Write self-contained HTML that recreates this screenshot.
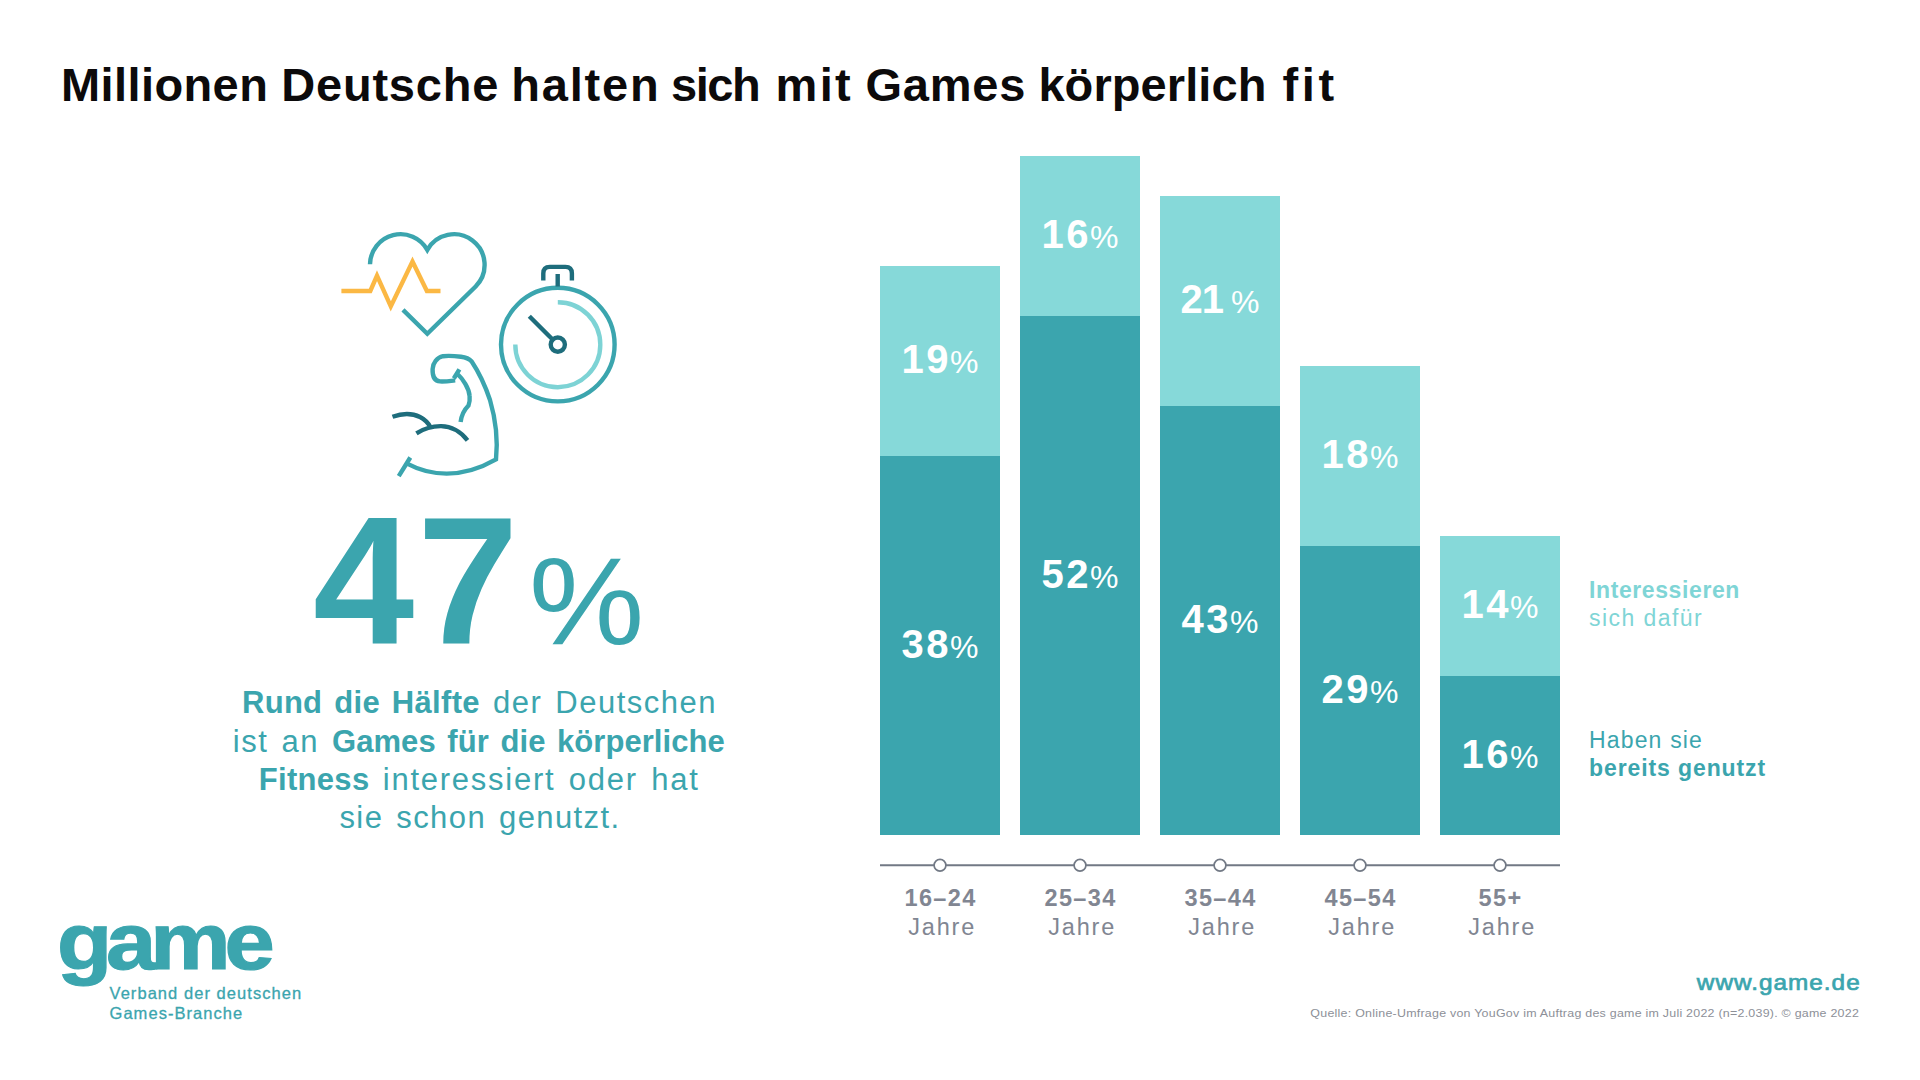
<!DOCTYPE html>
<html lang="de">
<head>
<meta charset="utf-8">
<title>Millionen Deutsche halten sich mit Games körperlich fit</title>
<style>
html,body{margin:0;padding:0;background:#fff;}
body{width:1920px;height:1080px;position:relative;overflow:hidden;font-family:"Liberation Sans",sans-serif;}
.abs{position:absolute;white-space:nowrap;line-height:1;}
#title{left:0;top:61px;width:1400px;height:47px;font-size:47px;font-weight:bold;color:#0c0a0b;}
#title span{position:absolute;top:0;}
.bar{position:absolute;width:120px;}
.dk{background:#3ba5ae;}
.lt{background:#86d9d9;}
.val{position:absolute;color:#fff;font-weight:bold;font-size:40px;white-space:nowrap;line-height:1;transform:translateX(-50%);letter-spacing:2.5px;}
.val span{font-weight:normal;font-size:32px;letter-spacing:0;margin-left:-1px;}
.xl{position:absolute;width:160px;text-align:center;color:#818692;font-size:23.5px;line-height:28.6px;white-space:nowrap;letter-spacing:1.8px;padding-left:2.2px;}
.xl b{letter-spacing:1.4px;position:relative;left:-1.6px;}
#big{left:313px;top:489.5px;font-size:182px;font-weight:bold;color:#3ba5ae;letter-spacing:3px;}
#bigp{left:529px;top:538.5px;font-size:124px;color:#3ba5ae;transform:scaleX(1.045);transform-origin:0 0;}
.pl{position:absolute;left:78px;width:800px;text-align:center;color:#3ba5ae;font-size:31px;line-height:38px;white-space:nowrap;letter-spacing:1.5px;word-spacing:3px;}
.pl b{letter-spacing:0.3px;}
.leg{font-size:23px;line-height:28.4px;}
#leg1{left:1589px;top:575.5px;color:#7fd5d6;}
#leg2{left:1589px;top:726px;color:#3ba5ae;}
#logo{left:57px;top:902px;font-size:80px;font-weight:bold;color:#3ba5ae;letter-spacing:-5.4px;transform:scaleX(1.13);transform-origin:0 0;-webkit-text-stroke:1.2px #3ba5ae;}
#logosub{left:109.5px;top:983px;font-size:16.5px;line-height:20.4px;color:#3ba5ae;letter-spacing:1.05px;-webkit-text-stroke:0.3px #3ba5ae;}
#www{right:59.5px;top:971.5px;font-size:22.5px;color:#3ba5ae;letter-spacing:0.94px;transform:scaleX(1.08);transform-origin:100% 0;-webkit-text-stroke:0.7px #3ba5ae;}
#src{right:60.5px;top:1008px;font-size:11.5px;color:#8d9098;letter-spacing:0.23px;transform:scaleX(1.08);transform-origin:100% 0;}
</style>
</head>
<body>
<div id="title" class="abs"><span style="left:61.0px;letter-spacing:0.4px">Millionen</span> <span style="left:281.2px;letter-spacing:0.81px">Deutsche</span> <span style="left:511.2px;letter-spacing:1.8px">halten</span> <span style="left:671.0px;letter-spacing:-1.42px">sich</span> <span style="left:775.6px;letter-spacing:2.25px">mit</span> <span style="left:865.4px;letter-spacing:0.79px">Games</span> <span style="left:1038.4px;letter-spacing:0.08px">körperlich</span> <span style="left:1282.6px;letter-spacing:3.6px">fit</span></div>
<!-- icons -->
<svg id="icons" class="abs" style="left:320px;top:210px" width="320" height="280" viewBox="320 210 320 280" fill="none" stroke-width="4.4" stroke-linecap="butt" stroke-linejoin="miter">
  <path id="heart" d="M370.00 264.30 A30.6 30.6 0 0 1 427.30 249.85 A30.6 30.6 0 1 1 475.64 286.44 L427.30 333.70 L403.00 309.90" stroke="#3ba5ae"/>
  <path id="ecg" d="M341.4 291 H370.3 L377 275.6 L390.8 306.4 L412.5 261.5 L426.9 291 H440.5" stroke="#fbb844"/>
  <circle cx="557.8" cy="344.6" r="56.8" stroke="#3ba5ae"/>
  <path d="M557.8 302.2 A42.5 42.5 0 1 1 515.3 344.6" stroke="#7dd3d5"/>
  <path d="M529.3 316.2 L552.6 339.5" stroke="#1e6d7c"/>
  <circle cx="557.8" cy="344.600" r="7.100" stroke="#1e6d7c"/>
  <path d="M543.3 280.5 V273.4 Q543.3 266.9 549.8 266.9 H565.4 Q571.9 266.9 571.9 273.4 V280.5 M557.7 274 V286.5" stroke="#1e6d7c"/>
  <path id="arm" d="M398.75 476.1 L410.3 457.5 M407.1 463.6 C421 471 434 473.600 446.7 473.600 C464 473.600 481 468 496 459.400 C498 440 495 417 490 400 C485 385 478 371 471.7 361.500 C469 358.500 466 357.400 461 356.800 C455 356 446 355.800 443 356.200 C437 357.500 432.800 363 432.600 369 C432.400 375 434 381 440 381.400 C445 381.700 450 381 455.200 380.400" stroke="#3ba5ae"/>
  <path d="M453.800 378.500 L459.400 369.400 M457 373.500 C463 379 469 388 469.600 396 C470 400 469.500 403 468.500 405.500 C464 410 461.500 415 460.600 422" stroke="#3ba5ae"/>
  <path d="M392.500 416.700 C403 413 413 413.500 420 417 C425 419.500 428.500 423.500 430.700 427.500 M416.400 433.300 C424 428.500 433 426 441.100 426.100 C452 426.300 461 432 467.500 440.300" stroke="#1e6d7c"/>
</svg>
<!-- bars -->
<div class="bar lt" style="left:880px;top:266.00px;height:190.00px"></div>
<div class="bar dk" style="left:880px;top:456.00px;height:379.10px"></div>
<div class="bar lt" style="left:1020px;top:156.00px;height:160.00px"></div>
<div class="bar dk" style="left:1020px;top:316.00px;height:519.10px"></div>
<div class="bar lt" style="left:1160px;top:196.00px;height:210.00px"></div>
<div class="bar dk" style="left:1160px;top:406.00px;height:429.10px"></div>
<div class="bar lt" style="left:1300px;top:366.00px;height:180.00px"></div>
<div class="bar dk" style="left:1300px;top:546.00px;height:289.10px"></div>
<div class="bar lt" style="left:1440px;top:536.00px;height:140.00px"></div>
<div class="bar dk" style="left:1440px;top:676.00px;height:159.10px"></div>
<div class="val" style="left:940px;top:338.6px">19<span>%</span></div>
<div class="val" style="left:940px;top:623.6px">38<span>%</span></div>
<div class="val" style="left:1080px;top:213.6px">16<span>%</span></div>
<div class="val" style="left:1080px;top:553.6px">52<span>%</span></div>
<div class="val" style="left:1220px;top:278.6px;letter-spacing:-1px">21<span> %</span></div>
<div class="val" style="left:1220px;top:598.6px">43<span>%</span></div>
<div class="val" style="left:1360px;top:433.6px">18<span>%</span></div>
<div class="val" style="left:1360px;top:668.6px">29<span>%</span></div>
<div class="val" style="left:1500px;top:583.6px">14<span>%</span></div>
<div class="val" style="left:1500px;top:733.6px">16<span>%</span></div>
<svg id="axis" class="abs" style="left:870px;top:850px" width="700" height="30" viewBox="870 850 700 30"><path d="M880 865.3 H1560" stroke="#727985" stroke-width="2" fill="none"/><circle cx="940" cy="865.3" r="5.9" fill="#fff" stroke="#727985" stroke-width="1.7"/><circle cx="1080" cy="865.3" r="5.9" fill="#fff" stroke="#727985" stroke-width="1.7"/><circle cx="1220" cy="865.3" r="5.9" fill="#fff" stroke="#727985" stroke-width="1.7"/><circle cx="1360" cy="865.3" r="5.9" fill="#fff" stroke="#727985" stroke-width="1.7"/><circle cx="1500" cy="865.3" r="5.9" fill="#fff" stroke="#727985" stroke-width="1.7"/></svg>
<div class="xl" style="left:860px;top:884.2px"><b>16–24</b><br>Jahre</div>
<div class="xl" style="left:1000px;top:884.2px"><b>25–34</b><br>Jahre</div>
<div class="xl" style="left:1140px;top:884.2px"><b>35–44</b><br>Jahre</div>
<div class="xl" style="left:1280px;top:884.2px"><b>45–54</b><br>Jahre</div>
<div class="xl" style="left:1420px;top:884.2px"><b>55+</b><br>Jahre</div>

<div id="big" class="abs">47</div>
<div id="bigp" class="abs">%</div>
<div class="pl" id="p1" style="top:684px;left:79.5px"><b>Rund die Hälfte</b> der Deutschen</div>
<div class="pl" id="p2" style="top:722.5px;left:78.8px">ist an <b style="letter-spacing:.05px">Games für die körperliche</b></div>
<div class="pl" id="p3" style="top:761px;left:79.2px;letter-spacing:1.75px"><b>Fitness</b> interessiert oder hat</div>
<div class="pl" id="p4" style="top:799.4px;left:80px;letter-spacing:1.4px">sie schon genutzt.</div>

<div id="leg1" class="abs leg"><b style="letter-spacing:.6px">Interessieren</b><br><span style="letter-spacing:1.45px">sich dafür</span></div>
<div id="leg2" class="abs leg"><span style="letter-spacing:1.16px">Haben sie</span><br><b style="letter-spacing:.9px">bereits genutzt</b></div>

<div id="logo" class="abs">game</div>
<div id="logosub" class="abs">Verband der deutschen<br>Games-Branche</div>
<div id="www" class="abs">www.game.de</div>
<div id="src" class="abs">Quelle: Online-Umfrage von YouGov im Auftrag des game im Juli 2022 (n=2.039). © game 2022</div>
</body>
</html>
